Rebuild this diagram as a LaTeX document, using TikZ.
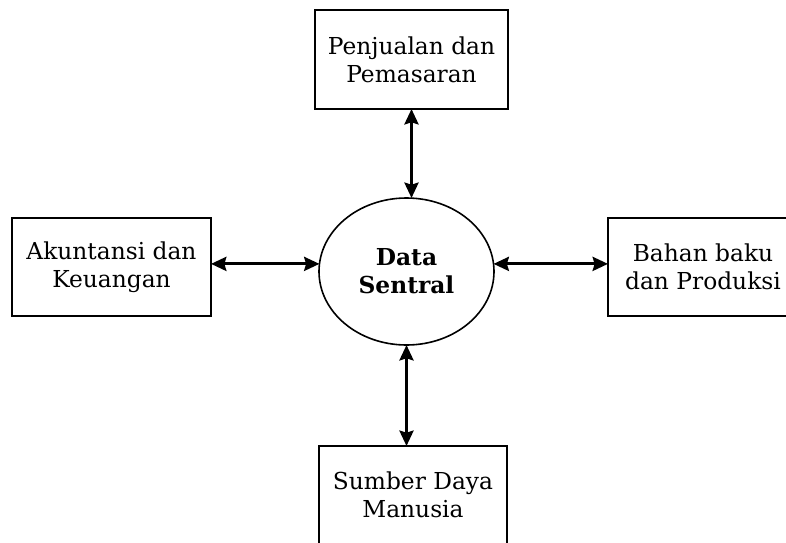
\documentclass[tikz,border=0pt]{standalone}
\usepackage{fontspec}
\setmainfont{DejaVu Serif}
\usetikzlibrary{arrows.meta,shapes.geometric}
\tikzset{%
    >={Stealth[length=11.5pt,width=10.5pt,inset=1.5pt]}, % option for nice arrows
    inner sep=0pt,%
    outer sep=0pt,%
    bagian/.style={draw,line width=1.2pt,minimum width=142.5pt,minimum height=73.5pt,
      align=center,font=\fontsize{17.5}{21}\selectfont},%
    pusat/.style={draw,line width=1.2pt,ellipse,minimum width=131.25pt,minimum height=110.25pt,
      align=center,font=\fontsize{17.5}{21}\selectfont\bfseries},%
    aliran/.style={<->,line width=2.3pt}%
    }

\begin{document}
\begin{tikzpicture}[x=0.75pt,y=-0.75pt]
    \useasboundingbox (0,0) rectangle (786,543);
    \node[pusat] (DS) at (406.5,271.5){Data\\Sentral};
    \node[bagian,minimum width=144.75pt,minimum height=74.25pt] (PP) at (411.5,59.5){Penjualan dan\\Pemasaran};
    \node[bagian,minimum width=149.25pt] (AK) at (111.5,267){Akuntansi dan\\Keuangan};
    \node[bagian] (BB) at (703,267){Bahan baku\\dan Produksi};
    \node[bagian,minimum width=141pt] (SD) at (413,495){Sumber Daya\\Manusia};

    \draw[aliran] (PP.south) -- (PP.south |- DS.north);
    \draw[aliran] (AK.east |- DS.175) -- (DS.175);
    \draw[aliran] (DS.5) -- (DS.5 -| BB.west);
    \draw[aliran] (DS.south) -- (DS.south |- SD.north);
\end{tikzpicture}
\end{document}
